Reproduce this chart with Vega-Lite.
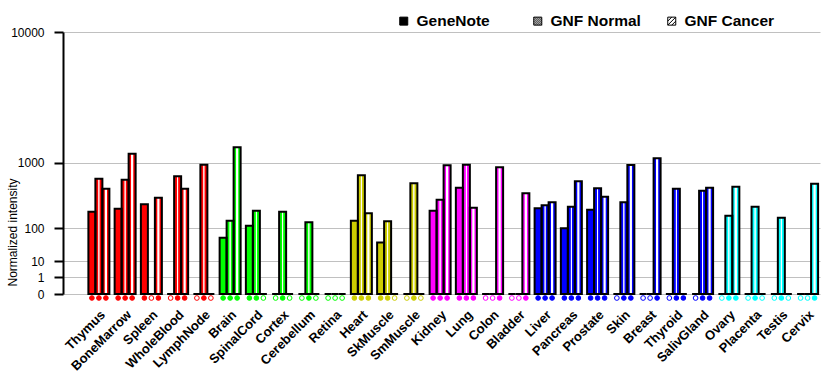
{
  "$schema": "https://vega.github.io/schema/vega-lite/v6.json",
  "width": 757,
  "height": 262,
  "autosize": "none",
  "padding": {"left": 63, "top": 32, "right": 20, "bottom": 91},
  "background": "white",
  "config": {"view": {"stroke": null}, "font": "Liberation Sans"},
  "data": {"values": [
    {"tissue":"Thymus","system":"immune","series":"GeneNote","value":211,"call":"P"},
    {"tissue":"Thymus","system":"immune","series":"GNF Normal","value":648,"call":"P"},
    {"tissue":"Thymus","system":"immune","series":"GNF Cancer","value":479,"call":"P"},
    {"tissue":"BoneMarrow","system":"immune","series":"GeneNote","value":237,"call":"P"},
    {"tissue":"BoneMarrow","system":"immune","series":"GNF Normal","value":630,"call":"P"},
    {"tissue":"BoneMarrow","system":"immune","series":"GNF Cancer","value":1248,"call":"P"},
    {"tissue":"Spleen","system":"immune","series":"GeneNote","value":281,"call":"P"},
    {"tissue":"Spleen","system":"immune","series":"GNF Normal","value":0,"call":"A"},
    {"tissue":"Spleen","system":"immune","series":"GNF Cancer","value":356,"call":"P"},
    {"tissue":"WholeBlood","system":"immune","series":"GeneNote","value":0,"call":"A"},
    {"tissue":"WholeBlood","system":"immune","series":"GNF Normal","value":694,"call":"P"},
    {"tissue":"WholeBlood","system":"immune","series":"GNF Cancer","value":479,"call":"P"},
    {"tissue":"LymphNode","system":"immune","series":"GeneNote","value":0,"call":"A"},
    {"tissue":"LymphNode","system":"immune","series":"GNF Normal","value":950,"call":"P"},
    {"tissue":"LymphNode","system":"immune","series":"GNF Cancer","value":0,"call":"A"},
    {"tissue":"Brain","system":"neural","series":"GeneNote","value":59,"call":"P"},
    {"tissue":"Brain","system":"neural","series":"GNF Normal","value":143,"call":"P"},
    {"tissue":"Brain","system":"neural","series":"GNF Cancer","value":1447,"call":"P"},
    {"tissue":"SpinalCord","system":"neural","series":"GeneNote","value":113,"call":"P"},
    {"tissue":"SpinalCord","system":"neural","series":"GNF Normal","value":219,"call":"P"},
    {"tissue":"SpinalCord","system":"neural","series":"GNF Cancer","value":0,"call":"A"},
    {"tissue":"Cortex","system":"neural","series":"GeneNote","value":0,"call":"A"},
    {"tissue":"Cortex","system":"neural","series":"GNF Normal","value":211,"call":"P"},
    {"tissue":"Cortex","system":"neural","series":"GNF Cancer","value":0,"call":"A"},
    {"tissue":"Cerebellum","system":"neural","series":"GeneNote","value":0,"call":"A"},
    {"tissue":"Cerebellum","system":"neural","series":"GNF Normal","value":133,"call":"P"},
    {"tissue":"Cerebellum","system":"neural","series":"GNF Cancer","value":0,"call":"A"},
    {"tissue":"Retina","system":"neural","series":"GeneNote","value":0,"call":"A"},
    {"tissue":"Retina","system":"neural","series":"GNF Normal","value":0,"call":"A"},
    {"tissue":"Retina","system":"neural","series":"GNF Cancer","value":0,"call":"A"},
    {"tissue":"Heart","system":"muscle","series":"GeneNote","value":143,"call":"P"},
    {"tissue":"Heart","system":"muscle","series":"GNF Normal","value":714,"call":"P"},
    {"tissue":"Heart","system":"muscle","series":"GNF Cancer","value":197,"call":"P"},
    {"tissue":"SkMuscle","system":"muscle","series":"GeneNote","value":44,"call":"P"},
    {"tissue":"SkMuscle","system":"muscle","series":"GNF Normal","value":139,"call":"P"},
    {"tissue":"SkMuscle","system":"muscle","series":"GNF Cancer","value":0,"call":"A"},
    {"tissue":"SmMuscle","system":"muscle","series":"GeneNote","value":0,"call":"A"},
    {"tissue":"SmMuscle","system":"muscle","series":"GNF Normal","value":566,"call":"P"},
    {"tissue":"SmMuscle","system":"muscle","series":"GNF Cancer","value":0,"call":"A"},
    {"tissue":"Kidney","system":"visceral","series":"GeneNote","value":219,"call":"P"},
    {"tissue":"Kidney","system":"visceral","series":"GNF Normal","value":332,"call":"P"},
    {"tissue":"Kidney","system":"visceral","series":"GNF Cancer","value":936,"call":"P"},
    {"tissue":"Lung","system":"visceral","series":"GeneNote","value":494,"call":"P"},
    {"tissue":"Lung","system":"visceral","series":"GNF Normal","value":950,"call":"P"},
    {"tissue":"Lung","system":"visceral","series":"GNF Cancer","value":247,"call":"P"},
    {"tissue":"Colon","system":"visceral","series":"GeneNote","value":0,"call":"A"},
    {"tissue":"Colon","system":"visceral","series":"GNF Normal","value":0,"call":"A"},
    {"tissue":"Colon","system":"visceral","series":"GNF Cancer","value":888,"call":"P"},
    {"tissue":"Bladder","system":"visceral","series":"GeneNote","value":0,"call":"A"},
    {"tissue":"Bladder","system":"visceral","series":"GNF Normal","value":0,"call":"A"},
    {"tissue":"Bladder","system":"visceral","series":"GNF Cancer","value":413,"call":"P"},
    {"tissue":"Liver","system":"glandular","series":"GeneNote","value":241,"call":"P"},
    {"tissue":"Liver","system":"glandular","series":"GNF Normal","value":270,"call":"P"},
    {"tissue":"Liver","system":"glandular","series":"GNF Cancer","value":302,"call":"P"},
    {"tissue":"Pancreas","system":"glandular","series":"GeneNote","value":100,"call":"P"},
    {"tissue":"Pancreas","system":"glandular","series":"GNF Normal","value":256,"call":"P"},
    {"tissue":"Pancreas","system":"glandular","series":"GNF Cancer","value":601,"call":"P"},
    {"tissue":"Prostate","system":"glandular","series":"GeneNote","value":228,"call":"P"},
    {"tissue":"Prostate","system":"glandular","series":"GNF Normal","value":485,"call":"P"},
    {"tissue":"Prostate","system":"glandular","series":"GNF Cancer","value":368,"call":"P"},
    {"tissue":"Skin","system":"glandular","series":"GeneNote","value":0,"call":"A"},
    {"tissue":"Skin","system":"glandular","series":"GNF Normal","value":302,"call":"P"},
    {"tissue":"Skin","system":"glandular","series":"GNF Cancer","value":943,"call":"P"},
    {"tissue":"Breast","system":"glandular","series":"GeneNote","value":0,"call":"A"},
    {"tissue":"Breast","system":"glandular","series":"GNF Normal","value":0,"call":"A"},
    {"tissue":"Breast","system":"glandular","series":"GNF Cancer","value":1116,"call":"P"},
    {"tissue":"Thyroid","system":"glandular","series":"GeneNote","value":0,"call":"A"},
    {"tissue":"Thyroid","system":"glandular","series":"GNF Normal","value":479,"call":"P"},
    {"tissue":"Thyroid","system":"glandular","series":"GNF Cancer","value":0,"call":"P"},
    {"tissue":"SalivGland","system":"glandular","series":"GeneNote","value":0,"call":"A"},
    {"tissue":"SalivGland","system":"glandular","series":"GNF Normal","value":450,"call":"P"},
    {"tissue":"SalivGland","system":"glandular","series":"GNF Cancer","value":494,"call":"P"},
    {"tissue":"Ovary","system":"reproductive","series":"GeneNote","value":0,"call":"A"},
    {"tissue":"Ovary","system":"reproductive","series":"GNF Normal","value":179,"call":"P"},
    {"tissue":"Ovary","system":"reproductive","series":"GNF Cancer","value":510,"call":"P"},
    {"tissue":"Placenta","system":"reproductive","series":"GeneNote","value":0,"call":"A"},
    {"tissue":"Placenta","system":"reproductive","series":"GNF Normal","value":256,"call":"P"},
    {"tissue":"Placenta","system":"reproductive","series":"GNF Cancer","value":0,"call":"A"},
    {"tissue":"Testis","system":"reproductive","series":"GeneNote","value":0,"call":"A"},
    {"tissue":"Testis","system":"reproductive","series":"GNF Normal","value":164,"call":"P"},
    {"tissue":"Testis","system":"reproductive","series":"GNF Cancer","value":0,"call":"A"},
    {"tissue":"Cervix","system":"reproductive","series":"GeneNote","value":0,"call":"A"},
    {"tissue":"Cervix","system":"reproductive","series":"GNF Normal","value":0,"call":"A"},
    {"tissue":"Cervix","system":"reproductive","series":"GNF Cancer","value":560,"call":"P"}
  ]},
  "encoding": {
    "x": {
      "field": "tissue", "type": "nominal", "sort": null, "title": null,
      "scale": {"paddingInner": 0.2, "paddingOuter": 0.52, "align": 0.93, "round": false},
      "axis": {"domain": false, "ticks": false, "grid": false, "labelAngle": -45, "labelAlign": "right", "labelBaseline": "top", "labelPadding": 14, "labelFont": "Liberation Sans", "labelFontSize": 13, "labelFontWeight": "bold", "labelColor": "black", "labelLimit": 0}
    },
    "xOffset": {"field": "series", "type": "nominal", "sort": ["GeneNote", "GNF Normal", "GNF Cancer"], "scale": {"paddingInner": 0, "paddingOuter": 0}}
  },
  "layer": [
    {
      "mark": {"type": "bar", "strokeWidth": 0},
      "encoding": {
        "y": {
          "field": "value", "type": "quantitative",
          "scale": {"type": "pow", "exponent": 0.3, "domain": [0, 10000], "nice": false, "zero": true},
          "axis": {"values": [0, 1, 10, 100, 1000, 10000], "format": "d", "title": "Normalized intensity", "titleFont": "Liberation Sans", "titleFontSize": 12, "titleFontWeight": "normal", "titleColor": "black", "titleX": -51, "titleY": 200, "titleAngle": -90, "titleAlign": "center", "titleBaseline": "middle", "labelFont": "Liberation Sans", "labelFontSize": 12, "labelColor": "black", "labelPadding": 10, "tickSize": 9, "tickWidth": 2, "tickColor": "black", "domainColor": "black", "domainWidth": 2, "grid": true, "gridColor": "#c0c0c0", "gridWidth": 1}
        },
        "fill": {"field": "system", "type": "nominal", "legend": null,
          "scale": {"domain": ["immune", "neural", "muscle", "visceral", "glandular", "reproductive"], "range": ["#ff0000", "#00ff00", "#cccc00", "#ff00ff", "#0000ff", "#00ffff"]}}
      }
    },
    {
      "transform": [{"filter": "datum.series === 'GNF Normal'"}],
      "mark": {"type": "bar", "fill": "white", "strokeWidth": 0, "width": 0.9, "xOffset": -1.1},
      "encoding": {"y": {"field": "value", "type": "quantitative"}}
    },
    {
      "transform": [{"filter": "datum.series === 'GNF Normal'"}],
      "mark": {"type": "bar", "fill": "white", "strokeWidth": 0, "width": 0.9, "xOffset": 1.1},
      "encoding": {"y": {"field": "value", "type": "quantitative"}}
    },
    {
      "transform": [{"filter": "datum.series === 'GNF Cancer'"}],
      "mark": {"type": "bar", "fill": "white", "strokeWidth": 0, "width": 2.2},
      "encoding": {"y": {"field": "value", "type": "quantitative"}}
    },
    {
      "mark": {"type": "bar", "fill": "transparent", "stroke": "black", "strokeWidth": 2, "strokeJoin": "miter"},
      "encoding": {"y": {"field": "value", "type": "quantitative"}}
    },
    {
      "mark": {"type": "point", "shape": "circle", "size": 22, "strokeWidth": 1, "filled": true, "opacity": 1, "yOffset": 4},
      "encoding": {
        "y": {"datum": 0, "type": "quantitative"},
        "fill": {"condition": {"test": "datum.call === 'P'", "field": "system", "type": "nominal", "legend": null,
          "scale": {"domain": ["immune", "neural", "muscle", "visceral", "glandular", "reproductive"], "range": ["#ff0000", "#00ff00", "#cccc00", "#ff00ff", "#0000ff", "#00ffff"]}}, "value": "white"},
        "stroke": {"field": "system", "type": "nominal", "legend": null,
          "scale": {"domain": ["immune", "neural", "muscle", "visceral", "glandular", "reproductive"], "range": ["#ff0000", "#00ff00", "#cccc00", "#ff00ff", "#0000ff", "#00ffff"]}}
      }
    },
    {
      "mark": {"type": "point", "filled": true, "opacity": 0, "strokeWidth": 1, "size": 64},
      "encoding": {
        "y": {"datum": 0, "type": "quantitative"},
        "shape": {"field": "series", "type": "nominal",
          "scale": {"domain": ["GeneNote", "GNF Normal", "GNF Cancer"], "range": ["square", "M-1,-1H1V1H-1Z M-1,-1L1,1 M-0.5,-1L1,0.5 M0,-1L1,0 M0.5,-1L1,-0.5 M-1,-0.5L0.5,1 M-1,0L0,1 M-1,0.5L-0.5,1", "M-1,-1H1V1H-1Z M-1,0L0,-1 M-1,1L1,-1 M0,1L1,0"]},
          "legend": {"title": null, "orient": "none", "legendX": 333, "legendY": -19, "direction": "horizontal", "symbolSize": 64, "symbolOpacity": 1, "symbolStrokeWidth": 1, "labelFont": "Liberation Sans", "labelFontSize": 15.5, "labelFontWeight": "bold", "labelColor": "black", "labelOffset": 5, "columnPadding": 23, "gridAlign": "all"}},
        "fill": {"field": "series", "type": "nominal",
          "scale": {"domain": ["GeneNote", "GNF Normal", "GNF Cancer"], "range": ["black", "white", "white"]},
          "legend": {"title": null, "orient": "none", "legendX": 333, "legendY": -19, "direction": "horizontal", "symbolSize": 64, "symbolOpacity": 1, "symbolStrokeWidth": 1, "labelFont": "Liberation Sans", "labelFontSize": 15.5, "labelFontWeight": "bold", "labelColor": "black", "labelOffset": 5, "columnPadding": 23, "gridAlign": "all"}},
        "stroke": {"field": "series", "type": "nominal",
          "scale": {"domain": ["GeneNote", "GNF Normal", "GNF Cancer"], "range": ["black", "black", "black"]},
          "legend": {"title": null, "orient": "none", "legendX": 333, "legendY": -19, "direction": "horizontal", "symbolSize": 64, "symbolOpacity": 1, "symbolStrokeWidth": 1, "labelFont": "Liberation Sans", "labelFontSize": 15.5, "labelFontWeight": "bold", "labelColor": "black", "labelOffset": 5, "columnPadding": 23, "gridAlign": "all"}}
      }
    }
  ],
  "resolve": {"scale": {"stroke": "independent", "fill": "independent", "shape": "independent"}}
}
